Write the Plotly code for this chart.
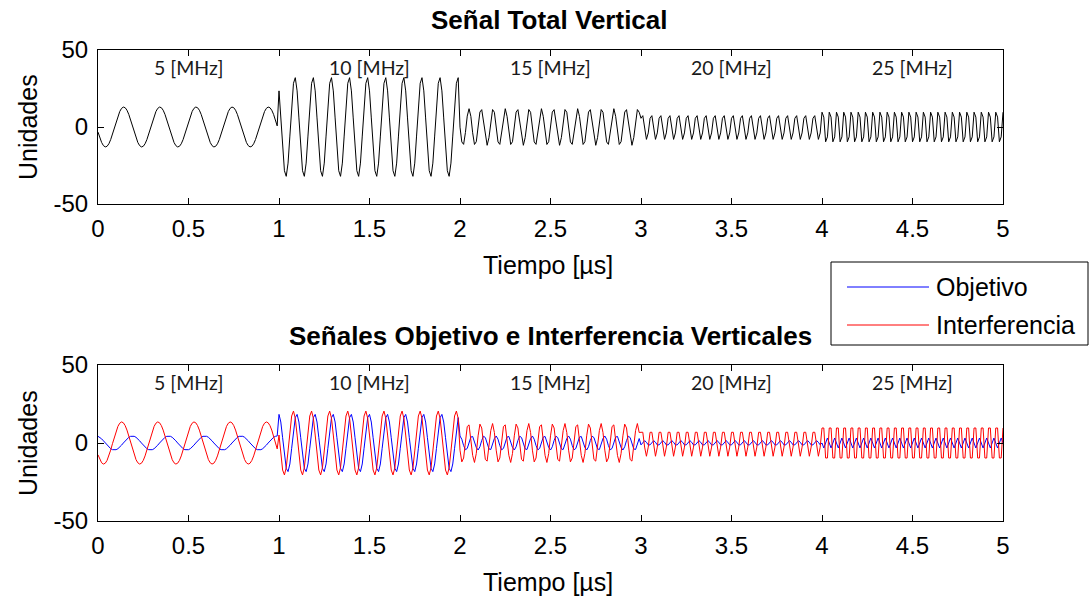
import numpy as np
import plotly.graph_objects as go

# Segment parameters of the simulated vertical signals (one value per band)
FREQ_MHZ = [5, 10, 15, 20, 25]
SEG_LABELS = ["5 [MHz]", "10 [MHz]", "15 [MHz]", "20 [MHz]", "25 [MHz]"]
OBJ_AMP = [4.5, 18.5, 4.5, 1.5, 3.2]          # Objetivo amplitude per band
OBJ_PHASE = [1.88, 1.70, 1.63, -0.94, 3.14]   # Objetivo phase [rad] per band
INT_AMP = [13.5, 20.5, 12.5, 8.5, 13.6]       # Interferencia amplitude per band
INT_PHASE = [-2.545, 2.89, 3.518, 0.94, 0.785]  # Interferencia phase [rad]
FS_MHZ = 100                                   # sampling rate
T_END_US = 5

X_TICKS = [0, 0.5, 1, 1.5, 2, 2.5, 3, 3.5, 4, 4.5, 5]
X_TICK_TEXT = ["0", "0.5", "1", "1.5", "2", "2.5", "3", "3.5", "4", "4.5", "5"]
Y_TICKS = [-50, 0, 50]
Y_TICK_TEXT = ["-50", "0", "50"]

# sampled time base (µs) and band index of each sample
t = np.round(np.arange(0, T_END_US * FS_MHZ + 1) / FS_MHZ, 4)
seg = np.minimum(np.floor(t + 1e-9).astype(int), len(FREQ_MHZ) - 1)
tau = t - seg
f = np.asarray(FREQ_MHZ)[seg]
objetivo = np.asarray(OBJ_AMP)[seg] * np.sin(2 * np.pi * f * tau + np.asarray(OBJ_PHASE)[seg])
interferencia = np.asarray(INT_AMP)[seg] * np.sin(2 * np.pi * f * tau + np.asarray(INT_PHASE)[seg])
total = objetivo + interferencia

FONT = "Liberation Sans, Arial, sans-serif"
W, H = 1090, 597

fig = go.Figure()
fig.add_trace(go.Scatter(x=t, y=total, mode="lines", line=dict(color="black", width=1),
                         name="Total", showlegend=False, xaxis="x", yaxis="y"))
fig.add_trace(go.Scatter(x=t, y=objetivo, mode="lines", line=dict(color="#0000ff", width=1),
                         name="Objetivo", showlegend=False, xaxis="x2", yaxis="y2"))
fig.add_trace(go.Scatter(x=t, y=interferencia, mode="lines", line=dict(color="#ff0000", width=1),
                         name="Interferencia", showlegend=False, xaxis="x2", yaxis="y2"))


def px_x(p):
    return p / W


def px_y(p):
    return 1 - p / H


xdom = [px_x(98), px_x(1003)]
top_px = (50, 204)
bot_px = (365, 521)
top_dom = [px_y(top_px[1]), px_y(top_px[0])]
bot_dom = [px_y(bot_px[1]), px_y(bot_px[0])]

axis_common = dict(showline=True, linecolor="black", linewidth=1, mirror="ticks",
                   ticks="inside", ticklen=6, tickwidth=1, tickcolor="black",
                   showgrid=False, zeroline=False, automargin=False,
                   tickfont=dict(family=FONT, size=24, color="black"))

xa = dict(axis_common, range=[0, 5], tickmode="array", tickvals=X_TICKS, ticktext=X_TICK_TEXT,
          domain=xdom, ticklabelstandoff=3)
ya = dict(axis_common, range=[-50, 50], tickmode="array", tickvals=Y_TICKS, ticktext=Y_TICK_TEXT,
          ticklabelstandoff=4)

fig.update_layout(
    width=W, height=H,
    margin=dict(l=0, r=0, t=0, b=0),
    paper_bgcolor="white", plot_bgcolor="white",
    showlegend=False,
    xaxis=dict(xa, anchor="y"),
    yaxis=dict(ya, domain=top_dom, anchor="x"),
    xaxis2=dict(xa, anchor="y2"),
    yaxis2=dict(ya, domain=bot_dom, anchor="x2"),
)

annotations = []
title_font = dict(family=FONT, size=25, color="black")
# band labels inside each panel
for xr, yr in (("x", "y"), ("x2", "y2")):
    for i, lab in enumerate(SEG_LABELS):
        annotations.append(dict(x=i + 0.5, y=38.5, xref=xr, yref=yr, text=lab, showarrow=False,
                                xanchor="center", yanchor="middle",
                                font=dict(family="Lato, sans-serif", size=19.5, color="#1a1a1a")))

# axis titles of both panels
for (p_top, p_bot) in (top_px, bot_px):
    annotations.append(dict(x=px_x(28), y=px_y((p_top + p_bot) / 2), xref="paper", yref="paper",
                            text="Unidades", textangle=-90, showarrow=False,
                            xanchor="center", yanchor="middle", font=title_font))
    annotations.append(dict(x=px_x(548), y=px_y(p_bot + 61), xref="paper", yref="paper",
                            text="Tiempo [µs]", showarrow=False,
                            xanchor="center", yanchor="middle", font=title_font))

# panel titles
annotations.append(dict(x=px_x(549), y=px_y(20), xref="paper", yref="paper", showarrow=False,
                        text="<b>Señal Total Vertical</b>", xanchor="center", yanchor="middle",
                        font=dict(family=FONT, size=26, color="black")))
annotations.append(dict(x=px_x(551), y=px_y(336), xref="paper", yref="paper", showarrow=False,
                        text="<b>Señales Objetivo e Interferencia Verticales</b>",
                        xanchor="center", yanchor="middle",
                        font=dict(family=FONT, size=26, color="black")))

# legend box
lg_left, lg_right, lg_top, lg_bot = 831, 1088, 262, 345
shapes = [dict(type="rect", xref="paper", yref="paper", x0=px_x(lg_left), x1=px_x(lg_right),
               y0=px_y(lg_bot), y1=px_y(lg_top), line=dict(color="black", width=1),
               fillcolor="white", layer="above")]
for row_y, name, col in ((287, "Objetivo", "#0000ff"), (325, "Interferencia", "#ff0000")):
    shapes.append(dict(type="line", xref="paper", yref="paper", x0=px_x(847), x1=px_x(929),
                       y0=px_y(row_y), y1=px_y(row_y), line=dict(color=col, width=1), layer="above"))
    annotations.append(dict(x=px_x(934), y=px_y(row_y), xref="paper", yref="paper", text=name,
                            showarrow=False, xanchor="left", yanchor="middle",
                            font=dict(family=FONT, size=25, color="black")))

fig.update_layout(annotations=annotations, shapes=shapes)
fig.write_html("out.html")
